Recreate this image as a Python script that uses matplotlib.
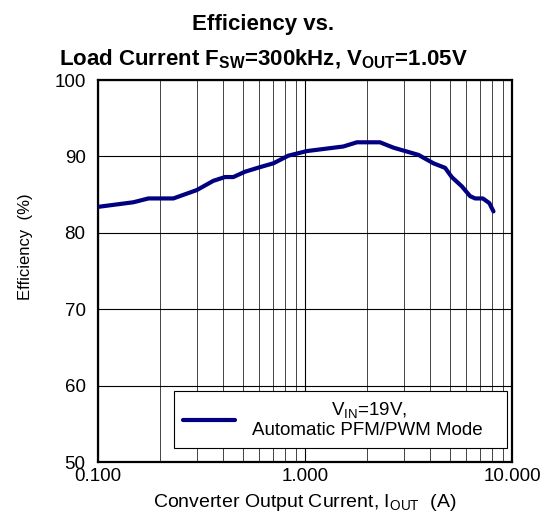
import matplotlib
matplotlib.use("Agg")
import matplotlib.pyplot as plt
from matplotlib.ticker import FixedLocator, LogLocator, NullFormatter

plt.rcParams['font.family'] = ['Liberation Sans', 'DejaVu Sans']
plt.rcParams['mathtext.default'] = 'regular'

# efficiency curve
iout = [0.100, 0.148, 0.175, 0.231, 0.300, 0.360, 0.410, 0.450, 0.513, 0.606,
        0.703, 0.830, 1.02, 1.53, 1.78, 2.30, 2.67, 3.53, 4.17, 4.75,
        5.11, 5.71, 6.27, 6.63, 7.22, 7.76, 8.13]
eff = [83.4, 84.0, 84.5, 84.5, 85.6, 86.8, 87.3, 87.3, 88.0, 88.6,
       89.1, 90.1, 90.7, 91.3, 91.85, 91.85, 91.15, 90.2, 89.1, 88.5,
       87.3, 86.1, 84.8, 84.5, 84.5, 83.9, 82.8]

xticks = [0.1, 1, 10]
xlabels = ["0.100", "1.000", "10.000"]
yticks = [50, 60, 70, 80, 90, 100]

fig = plt.figure(figsize=(5.45, 5.2), dpi=100)
ax = fig.add_axes([0.18, 0.1115, 0.7596, 0.7346])

ax.plot(iout, eff, color="#000080", lw=3, solid_capstyle="round",
        label="V$_{IN}$=19V,   \nAutomatic PFM/PWM Mode   ", zorder=3)

ax.set_xscale("log")
ax.set_xlim(0.1, 10)
ax.set_ylim(50, 100)
ax.xaxis.set_major_locator(FixedLocator(xticks))
ax.set_xticklabels(xlabels)
ax.xaxis.set_minor_locator(LogLocator(base=10, subs=range(2, 10)))
ax.xaxis.set_minor_formatter(NullFormatter())
ax.set_yticks(yticks)

ax.grid(True, which="major", color="black", lw=0.8)
ax.grid(True, which="minor", axis="x", color="#444444", lw=0.7)
ax.tick_params(which="both", length=0, labelsize=13.5)
ax.tick_params(axis="x", pad=4.5)
ax.tick_params(axis="y", pad=9)
for s in ax.spines.values():
    s.set_linewidth(1.6)

ax.set_xlabel("Converter Output Current, I$_{OUT}$  (A)", fontsize=14, labelpad=5)
ax.set_ylabel("Efficiency  (%)", fontsize=12)
ax.yaxis.set_label_coords(-0.157, 0.563)

fig.text(0.483, 0.942, "Efficiency vs.", ha="center", va="baseline",
         fontsize=16, fontweight="bold")
fig.text(0.483, 0.875, "Load Current F$_{SW}$=300kHz, V$_{OUT}$=1.05V", ha="center",
         va="baseline", fontsize=16, fontweight="bold")

leg = ax.legend(loc="lower right", bbox_to_anchor=(0.988, 0.037), borderaxespad=0,
                fontsize=13.5, frameon=True, fancybox=False, framealpha=1,
                edgecolor="black", handlelength=2.8, borderpad=0.45,
                handletextpad=0.9, labelspacing=0.2)
leg.get_frame().set_linewidth(0.8)
for t in leg.get_texts():
    t.set_multialignment("center")

fig.savefig("out.png", dpi=100)
